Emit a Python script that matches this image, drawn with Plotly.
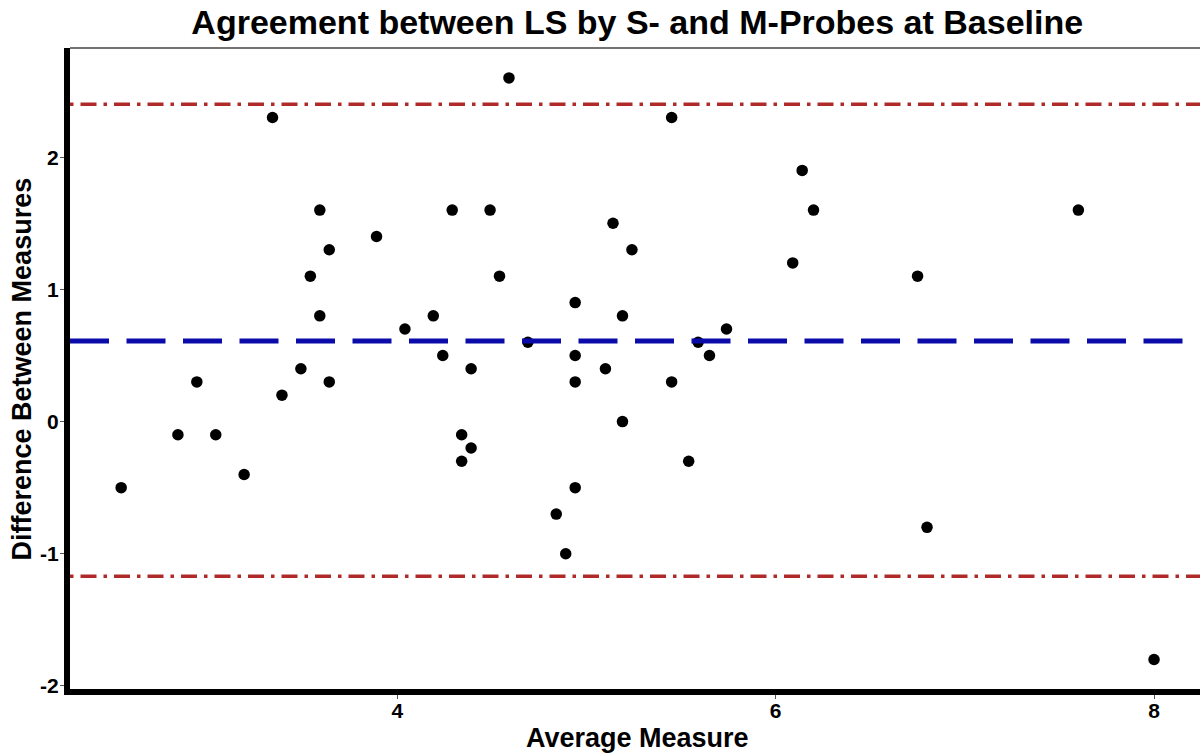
import plotly.graph_objects as go

# Average of the two probe readings and their difference (S - M)
avg_measure = [2.54, 2.84, 2.94, 3.04, 3.19, 3.34, 3.39, 3.49, 3.54, 3.59,
               3.59, 3.64, 3.64, 3.89, 4.04, 4.19, 4.24, 4.29, 4.34, 4.34,
               4.39, 4.39, 4.49, 4.54, 4.59, 4.69, 4.84, 4.89, 4.94, 4.94,
               4.94, 4.94, 5.10, 5.14, 5.19, 5.19, 5.24, 5.45, 5.45, 5.54,
               5.59, 5.65, 5.74, 6.09, 6.14, 6.20, 6.75, 6.80, 7.60, 8.00]
diff_measure = [-0.5, -0.1, 0.3, -0.1, -0.4, 2.3, 0.2, 0.4, 1.1, 1.6,
                0.8, 1.3, 0.3, 1.4, 0.7, 0.8, 0.5, 1.6, -0.1, -0.3,
                0.4, -0.2, 1.6, 1.1, 2.6, 0.6, -0.7, -1.0, 0.9, 0.5,
                0.3, -0.5, 0.4, 1.5, 0.8, 0.0, 1.3, 2.3, 0.3, -0.3,
                0.6, 0.5, 0.7, 1.2, 1.9, 1.6, 1.1, -0.8, 1.6, -1.8]

# Bias and limits of agreement
mean_diff = 0.61
upper_loa = 2.40
lower_loa = -1.17

x_ticks = [4, 6, 8]
x_tick_labels = ["4", "6", "8"]
y_ticks = [-2, -1, 0, 1, 2]
y_tick_labels = ["-2", "-1", "0", "1", "2"]

FONT = "Liberation Sans, Arial, sans-serif"

fig = go.Figure()
fig.add_trace(go.Scatter(
    x=avg_measure, y=diff_measure, mode="markers",
    marker=dict(color="black", size=11.5, line=dict(width=0)),
    showlegend=False, hoverinfo="x+y",
))

# Mean difference line
fig.add_shape(type="line", xref="paper", x0=0, x1=1, yref="y",
              y0=mean_diff, y1=mean_diff,
              line=dict(color="#0b0baa", width=5, dash="39px,17.5px"))
# Limits of agreement
for loa in (upper_loa, lower_loa):
    fig.add_shape(type="line", xref="paper", x0=0, x1=1, yref="y",
                  y0=loa, y1=loa,
                  line=dict(color="#b02a2a", width=3.5,
                            dash="3.5px,7px,16px,7px"))

# Thin panel edge along the top
fig.add_shape(type="line", xref="paper", yref="paper", x0=0, x1=1, y0=1, y1=1,
              line=dict(color="#444444", width=1.5))

fig.add_annotation(text="Average Measure", xref="paper", yref="paper",
                   x=0.502, y=-0.0764, xanchor="center", yanchor="middle",
                   showarrow=False,
                   font=dict(family=FONT, size=27, color="black", weight=700))
fig.add_annotation(text="Difference Between Measures", xref="paper", yref="paper",
                   x=-0.0425, y=0.5, xanchor="center", yanchor="middle",
                   textangle=-90, showarrow=False,
                   font=dict(family=FONT, size=27, color="black", weight=700))

fig.update_layout(
    width=1200, height=754,
    margin=dict(l=70, r=0, t=48, b=65),
    paper_bgcolor="white", plot_bgcolor="white",
    title=dict(text="Agreement between LS by S- and M-Probes at Baseline",
               x=0.502, xref="paper", xanchor="center",
               y=1 - 22 / 754, yref="container", yanchor="middle",
               font=dict(family=FONT, size=34, color="black", weight=700)),
    xaxis=dict(range=[2.2695, 8.243], tickvals=x_ticks, ticktext=x_tick_labels,
               showgrid=False, zeroline=False, showline=True,
               linecolor="black", linewidth=6,
               ticks="outside", ticklen=4, tickwidth=1, tickcolor="#555555",
               ticklabelstandoff=-6,
               tickfont=dict(family=FONT, size=21, color="black", weight=700)),
    yaxis=dict(range=[-2.023, 2.826], tickvals=y_ticks, ticktext=y_tick_labels,
               showgrid=False, zeroline=False, showline=True,
               linecolor="black", linewidth=6,
               ticks="outside", ticklen=4, tickwidth=1, tickcolor="#555555",
               ticklabelstandoff=-3,
               tickfont=dict(family=FONT, size=21, color="black", weight=700)),
)

fig.write_html("out.html")
